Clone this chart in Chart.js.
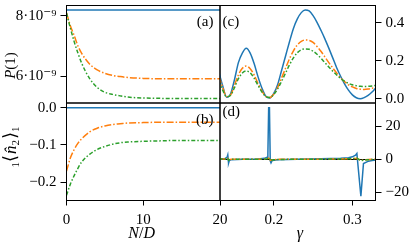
<!DOCTYPE html>
<html>
<head>
<meta charset="utf-8">
<script src="https://cdn.jsdelivr.net/npm/chart.js@4.4.0/dist/chart.umd.min.js"></script>
<style>
  html, body { margin: 0; padding: 0; background: #fff; }
  #wrap { position: relative; width: 415px; height: 250px; }
  #wrap canvas { position: absolute; left: 0; top: 0; }
</style>
</head>
<body>
<div id="wrap">
  <canvas id="pa" width="415" height="250"></canvas>
  <canvas id="pb" width="415" height="250"></canvas>
  <canvas id="pc" width="415" height="250"></canvas>
  <canvas id="pd" width="415" height="250"></canvas>
</div>
<script>
// left column: values against N/D
const nd = [0, 0.5, 1, 1.5, 2, 3, 4, 5, 6, 7, 8, 10, 12, 14, 16, 18, 20];
const probBlue = [8.2e-9, 8.2e-9, 8.2e-9, 8.2e-9, 8.2e-9, 8.2e-9, 8.2e-9, 8.2e-9, 8.2e-9, 8.2e-9, 8.2e-9, 8.2e-9, 8.2e-9, 8.2e-9, 8.2e-9, 8.2e-9, 8.2e-9];
const probOrange = [8.1e-9, 7.68e-9, 7.35e-9, 7.0e-9, 6.75e-9, 6.41e-9, 6.21e-9, 6.1e-9, 6.03e-9, 5.99e-9, 5.96e-9, 5.93e-9, 5.92e-9, 5.92e-9, 5.92e-9, 5.92e-9, 5.92e-9];
const probGreen = [8.1e-9, 7.6e-9, 7.15e-9, 6.76e-9, 6.42e-9, 5.93e-9, 5.63e-9, 5.47e-9, 5.4e-9, 5.35e-9, 5.31e-9, 5.28e-9, 5.27e-9, 5.26e-9, 5.26e-9, 5.26e-9, 5.26e-9];
const occBlue = [0, 0, 0, 0, 0, 0, 0, 0, 0, 0, 0, 0, 0, 0, 0, 0, 0];
const occOrange = [-0.17, -0.135, -0.112, -0.095, -0.083, -0.065, -0.055, -0.049, -0.045, -0.043, -0.041, -0.04, -0.039, -0.039, -0.039, -0.039, -0.039];
const occGreen = [-0.235, -0.205, -0.182, -0.162, -0.145, -0.125, -0.112, -0.104, -0.098, -0.094, -0.092, -0.09, -0.089, -0.088, -0.088, -0.088, -0.088];

// right column: values against gamma
const gam = [0.130, 0.135, 0.140, 0.145, 0.150, 0.155, 0.160, 0.165, 0.170, 0.175, 0.180, 0.185, 0.190, 0.195, 0.200, 0.205, 0.210, 0.215, 0.220, 0.225, 0.230, 0.235, 0.240, 0.245, 0.250, 0.255, 0.260, 0.265, 0.270, 0.275, 0.280, 0.285, 0.290, 0.295, 0.300, 0.305, 0.310, 0.315, 0.320, 0.325, 0.330];
const cBlue = [0.143, 0.068, 0.008, 0.025, 0.10, 0.19, 0.24, 0.265, 0.24, 0.185, 0.115, 0.055, 0.012, 0.004, 0.028, 0.075, 0.15, 0.225, 0.30, 0.37, 0.42, 0.453, 0.467, 0.462, 0.437, 0.402, 0.36, 0.315, 0.266, 0.215, 0.163, 0.118, 0.078, 0.045, 0.02, 0.005, 0.0, 0.006, 0.018, 0.035, 0.058];
const cOrange = [0.12, 0.06, 0.012, 0.02, 0.07, 0.125, 0.16, 0.172, 0.158, 0.125, 0.08, 0.04, 0.012, 0.006, 0.025, 0.06, 0.11, 0.16, 0.21, 0.252, 0.283, 0.302, 0.309, 0.307, 0.296, 0.275, 0.25, 0.22, 0.19, 0.162, 0.135, 0.11, 0.09, 0.073, 0.062, 0.054, 0.05, 0.049, 0.051, 0.055, 0.062];
const cGreen = [0.095, 0.045, 0.01, 0.018, 0.058, 0.105, 0.135, 0.146, 0.136, 0.108, 0.07, 0.035, 0.012, 0.007, 0.022, 0.052, 0.092, 0.135, 0.178, 0.215, 0.242, 0.258, 0.262, 0.26, 0.25, 0.234, 0.213, 0.19, 0.167, 0.145, 0.125, 0.107, 0.092, 0.081, 0.073, 0.068, 0.065, 0.064, 0.065, 0.067, 0.07];

const dGam = [0.130, 0.138, 0.1405, 0.1415, 0.142, 0.1425, 0.1435, 0.146, 0.160, 0.180, 0.188, 0.1915, 0.1925, 0.1935, 0.1945, 0.1955, 0.1965, 0.198, 0.205, 0.230, 0.260, 0.285, 0.295, 0.300, 0.304, 0.3057, 0.3108, 0.3141, 0.3204, 0.325, 0.330];
const dBlue = [0.3, 0.4, 1.0, 2.6, 0.0, -2.4, -0.8, -0.3, -0.1, 0.1, 0.5, 1.2, 3.0, 31, 31, -1.0, -2.2, -0.8, -0.3, 0.0, 0.2, 0.5, 0.9, 1.4, 2.4, 3.4, -22.4, -2.6, -1.2, -0.8, -0.5];
const dOrange = [0.1, 0.1, 0.2, 0.5, 0, -0.5, -0.2, -0.1, 0, 0, 0.1, 0.2, 0.4, 0.6, 0.3, -0.6, -0.8, -0.4, -0.1, 0, 0, 0.1, 0.2, 0.3, 0.4, 0.5, -0.8, -0.4, -0.2, -0.1, -0.1];
const dGreen = [0.1, 0.1, 0.3, 0.7, 0, -0.7, -0.3, -0.1, 0, 0, 0.1, 0.3, 0.5, 0.8, 0.4, -0.9, -1.1, -0.5, -0.2, 0, 0, 0.1, 0.2, 0.3, 0.5, 0.6, -1.0, -0.6, -0.3, -0.2, -0.1];

// tick values and labels
const probTicks = [6e-9, 8e-9];
const probLabels = ['6·10⁻⁹', '8·10⁻⁹'];
const occTicks = [-0.2, -0.1, 0];
const occLabels = ['−0.2', '−0.1', '0.0'];
const cTicks = [0, 0.2, 0.4];
const cLabels = ['0.0', '0.2', '0.4'];
const dTicks = [-20, 0, 20];
const dLabels = ['−20', '0', '20'];
const ndTicks = [0, 10, 20];
const ndLabels = ['0', '10', '20'];
const gamTicks = [0.2, 0.3];
const gamLabels = ['0.2', '0.3'];

const FONT = "'Liberation Serif', 'DejaVu Serif', serif";
const BLUE = '#1f77b4', ORANGE = '#ff7f0e', GREEN = '#2ca02c';

// panel edges in page pixels
const xL = 66.5, xM = 220, xR = 375.5;
const yT = 5.5, yM = 103, yB = 200.5;
const W = 415, H = 250;

function pts(xs, ys) {
  return xs.map((x, i) => ({ x: x, y: ys[i] }));
}

function series(xs, blue, orange, green, smooth) {
  const base = { pointRadius: 0, borderWidth: 1.5, fill: false };
  if (smooth) base.cubicInterpolationMode = 'monotone';
  return [
    Object.assign({ data: pts(xs, green), borderColor: GREEN, borderDash: [4, 2, 1.5, 2], order: 1 }, base),
    Object.assign({ data: pts(xs, orange), borderColor: ORANGE, borderDash: [7, 2, 1.5, 2], order: 2 }, base),
    Object.assign({ data: pts(xs, blue), borderColor: BLUE, order: 3 }, base),
  ];
}

function drawRich(ctx, parts, x, y, rot) {
  ctx.save();
  ctx.translate(x, y);
  ctx.rotate(rot);
  ctx.textBaseline = 'alphabetic';
  ctx.textAlign = 'left';
  let total = 0;
  parts.forEach(p => {
    ctx.font = `${p.it ? 'italic ' : ''}${p.s || 15}px ${FONT}`;
    total += ctx.measureText(p.t).width + (p.gap || 0);
  });
  let cx = -total / 2;
  parts.forEach(p => {
    ctx.font = `${p.it ? 'italic ' : ''}${p.s || 15}px ${FONT}`;
    ctx.fillText(p.t, cx, p.dy || 0);
    cx += ctx.measureText(p.t).width + (p.gap || 0);
  });
  ctx.restore();
}

const framePlugin = {
  id: 'frame',
  afterDraw(chart, args, opts) {
    const { ctx, chartArea: a } = chart;
    ctx.save();
    ctx.strokeStyle = '#000';
    ctx.lineWidth = 1;
    ctx.strokeRect(a.left, a.top, a.right - a.left, a.bottom - a.top);
    ctx.fillStyle = '#000';
    ctx.font = `15px ${FONT}`;
    ctx.textBaseline = 'middle';
    ctx.textAlign = opts.align;
    ctx.fillText(opts.tag, opts.tx, opts.ty);
    (opts.titles || []).forEach(t => drawRich(ctx, t.parts, t.x, t.y, t.rot || 0));
    ctx.restore();
  }
};

const tickFont = { family: FONT, size: 15 };

function makePanel(id, o) {
  const yAxis = {
    type: 'linear',
    position: o.yPos,
    min: o.yMin,
    max: o.yMax,
    afterBuildTicks: s => { s.ticks = o.yTicks.map(v => ({ value: v })); },
    afterFit: s => { s.width = o.yWidth; s.paddingTop = 0; s.paddingBottom = 0; },
    ticks: {
      color: '#000',
      font: tickFont,
      padding: 4,
      callback: (v, i) => o.yLabels[i]
    },
    grid: {
      drawOnChartArea: !!o.zeroLine,
      color: c => (o.zeroLine && c.tick && c.tick.value === 0) ? '#000' : 'rgba(0,0,0,0)',
      lineWidth: 1,
      drawTicks: true,
      tickLength: 6,
      tickColor: '#000',
      tickWidth: 1
    },
    border: { display: false }
  };
  const xAxis = {
    type: 'linear',
    position: 'bottom',
    min: o.xMin,
    max: o.xMax,
    display: !!o.xTicks,
    afterBuildTicks: s => { if (o.xTicks) s.ticks = o.xTicks.map(v => ({ value: v })); },
    afterFit: s => { s.height = o.xTicks ? 40 : 0; s.paddingLeft = 0; s.paddingRight = 0; },
    ticks: {
      color: '#000',
      font: tickFont,
      padding: 6,
      maxRotation: 0,
      callback: (v, i) => o.xLabels ? o.xLabels[i] : ''
    },
    grid: {
      drawOnChartArea: false,
      drawTicks: true,
      tickLength: 5,
      tickColor: '#000',
      tickWidth: 1
    },
    border: { display: false }
  };

  return new Chart(document.getElementById(id), {
    type: 'line',
    data: { datasets: o.datasets },
    options: {
      responsive: false,
      animation: false,
      events: [],
      layout: { padding: o.pad },
      scales: { x: xAxis, y: yAxis },
      plugins: {
        legend: { display: false },
        tooltip: { enabled: false },
        frame: { tag: o.tag, tx: o.tx, ty: o.ty, align: o.align, titles: o.titles }
      }
    },
    plugins: [framePlugin]
  });
}

makePanel('pa', {
  datasets: series(nd, probBlue, probOrange, probGreen, true),
  xMin: 0, xMax: 20,
  yPos: 'left', yMin: 5.114e-9, yMax: 8.348e-9, yWidth: xL,
  yTicks: probTicks, yLabels: probLabels,
  pad: { left: 0, top: yT, right: W - xM, bottom: H - yM },
  tag: '(a)', tx: 213.5, ty: 22.5, align: 'right',
  titles: [{ parts: [{ t: 'P', it: true }, { t: '(1)' }], x: 15, y: 65.5, rot: -Math.PI / 2 }]
});

makePanel('pb', {
  datasets: series(nd, occBlue, occOrange, occGreen, true),
  xMin: 0, xMax: 20, xTicks: ndTicks, xLabels: ndLabels,
  yPos: 'left', yMin: -0.2488, yMax: 0.0126, yWidth: xL,
  yTicks: occTicks, yLabels: occLabels,
  pad: { left: 0, top: yM, right: W - xM, bottom: H - yB - 40 },
  tag: '(b)', tx: 213.5, ty: 120, align: 'right',
  titles: [
    { parts: [{ t: '1', s: 11, dy: 3 }, { t: '⟨', s: 18, gap: 1 }, { t: 'n̂', it: true, s: 17 }, { t: '2', s: 11, dy: 3, gap: 1 }, { t: '⟩', s: 18 }, { t: '1', s: 11, dy: 3 }], x: 16, y: 147, rot: -Math.PI / 2 },
    { parts: [{ t: 'N', it: true, s: 16 }, { t: '/', s: 16 }, { t: 'D', it: true, s: 16 }], x: 141.7, y: 238 }
  ]
});

makePanel('pc', {
  datasets: series(gam, cBlue, cOrange, cGreen, true),
  xMin: 0.1316, xMax: 0.3294,
  yPos: 'right', yMin: -0.0226, yMax: 0.4905, yWidth: W - xR,
  yTicks: cTicks, yLabels: cLabels,
  pad: { left: xM, top: yT, right: 0, bottom: H - yM },
  tag: '(c)', tx: 222.5, ty: 21.7, align: 'left'
});

makePanel('pd', {
  datasets: series(dGam, dBlue, dOrange, dGreen, false),
  xMin: 0.1316, xMax: 0.3294, xTicks: gamTicks, xLabels: gamLabels,
  yPos: 'right', yMin: -24.95, yMax: 33.9, yWidth: W - xR,
  yTicks: dTicks, yLabels: dLabels, zeroLine: true,
  pad: { left: xM, top: yM, right: 0, bottom: H - yB - 40 },
  tag: '(d)', tx: 222.5, ty: 111.8, align: 'left',
  titles: [{ parts: [{ t: 'γ', it: true, s: 16 }], x: 300, y: 238 }]
});
</script>
</body>
</html>
